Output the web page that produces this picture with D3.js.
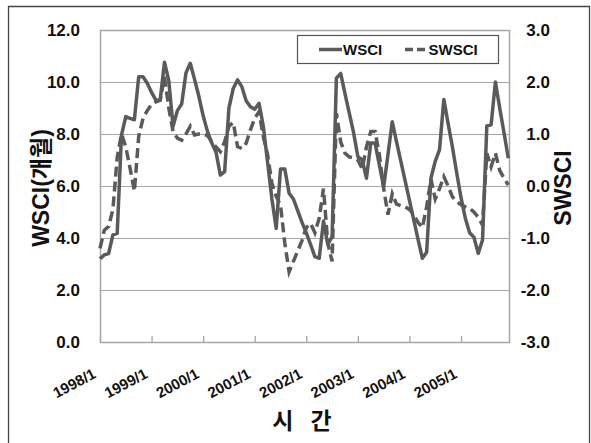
<!DOCTYPE html>
<html><head><meta charset="utf-8">
<script src="https://cdn.jsdelivr.net/npm/d3@7"></script>
<style>
html,body{margin:0;padding:0;background:#fff;}
svg{display:block;}
</style></head>
<body>
<script>
// ---- data ----
const startYear = 1998;
const xTickLabels = ["1998/1","1999/1","2000/1","2001/1","2002/1","2003/1","2004/1","2005/1"];
const wsci = [
 3.2,3.35,3.4,4.12,4.18,7.96,8.67,8.6,8.55,10.2,10.2,9.95,
 9.6,9.3,9.3,10.76,10.05,8.3,8.9,9.15,10.35,10.72,10.1,9.45,
 8.7,8.1,7.65,7.3,6.42,6.55,9.0,9.75,10.08,9.82,9.28,9.05,
 8.95,9.18,8.3,6.9,5.5,4.37,6.65,6.65,5.72,5.5,5.05,4.6,
 4.2,3.75,3.28,3.22,4.65,3.75,4.05,10.15,10.33,9.55,8.8,8.05,
 7.13,7.0,6.3,7.65,7.65,6.8,5.97,7.2,8.47,7.7,6.95,6.2,
 5.45,4.7,3.95,3.22,3.45,6.3,6.95,7.4,9.33,8.4,7.5,6.5,
 5.55,4.76,4.2,4.03,3.41,3.92,8.31,8.35,10.0,9.0,8.05,7.07
];
const swsci = [
 -1.2,-0.85,-0.78,-0.45,0.55,1.0,0.75,0.34,-0.1,0.95,1.3,1.45,
 1.57,1.62,1.65,2.1,1.5,1.05,0.92,0.88,1.0,1.15,0.98,1.0,
 1.0,0.97,0.85,0.75,0.66,0.85,1.15,1.22,0.76,0.72,0.82,1.08,
 1.3,1.43,0.95,0.6,0.05,-0.2,-0.37,-1.1,-1.65,-1.45,-1.25,-1.05,
 -0.8,-0.72,-0.9,-0.62,-0.05,-1.1,-1.45,1.4,0.85,0.63,0.56,0.54,
 0.5,0.33,0.75,1.05,1.05,0.6,-0.05,-0.55,-0.15,-0.35,-0.38,-0.4,
 -0.45,-0.55,-0.7,-0.8,-0.4,0.13,-0.25,-0.05,0.18,0.0,-0.21,-0.3,
 -0.36,-0.4,-0.43,-0.5,-0.6,-0.75,0.63,0.37,0.63,0.3,0.15,0.02
];
const leftTicks = [0,2,4,6,8,10,12];
const rightTicks = [-3,-2,-1,0,1,2,3];
const seriesNames = ["WSCI","SWSCI"];
const months = wsci.map((d,i)=> (startYear + Math.floor(i/12)) + "/" + (i%12+1));

// ---- layout ----
const W = 591, H = 443;
const L = 100, R = 510, T = 30, B = 342;
const lineColor = "#5a5a5a";
const gridColor = "#a6a6a6";
const numFont = "'Liberation Sans', Arial, sans-serif";
const korFont = "'Liberation Sans', 'Noto Sans CJK KR', sans-serif";

const svg = d3.select("body").append("svg").attr("width", W).attr("height", H);
svg.append("rect").attr("width",W).attr("height",H).attr("fill","#fff");
// outer frame
svg.append("path").attr("d", `M8.5,${H} V6.5 H589.5 V${H}`)
  .attr("fill","none").attr("stroke","#444").attr("stroke-width",1.3);

const x = d3.scalePoint().domain(months).range([L, 508.3]);
const yL = d3.scaleLinear().domain([0,12]).range([B,T]);
const yR = d3.scaleLinear().domain([-3,3]).range([B,T]);

// gridlines
const grid = svg.append("g").attr("transform",`translate(${L},0)`)
  .call(d3.axisLeft(yL).tickValues(leftTicks).tickSize(-(R-L)).tickFormat(""));
grid.select(".domain").remove();
grid.selectAll("line").attr("stroke",gridColor).attr("stroke-width",1);

// plot border
svg.append("rect").attr("x",L+0.5).attr("y",T+0.5).attr("width",R-L-1).attr("height",B-T)
  .attr("fill","none").attr("stroke",gridColor).attr("stroke-width",1.5);

// x axis ticks (inside)
const xa = svg.append("g").attr("transform",`translate(0,${B})`)
  .call(d3.axisBottom(x).tickValues(xTickLabels).tickSizeInner(-6).tickSizeOuter(0).tickFormat(""));
xa.select(".domain").remove();
xa.selectAll("line").attr("stroke",gridColor).attr("stroke-width",1.3);

// x tick labels (rotated)
svg.append("g").selectAll("text").data(xTickLabels).join("text")
  .attr("transform", d => `translate(${x(d)-3},377) rotate(-28)`)
  .attr("text-anchor","end")
  .attr("font-family",numFont).attr("font-size",15).attr("font-weight","bold").attr("fill","#111")
  .text(d=>d);

// left axis labels
const ya = svg.append("g").attr("transform",`translate(${L},0)`)
  .call(d3.axisLeft(yL).tickValues(leftTicks).tickSize(0).tickPadding(20).tickFormat(v=>v.toFixed(1)));
ya.select(".domain").remove();
ya.selectAll("text").attr("font-family",numFont).attr("font-size",17).attr("font-weight","bold").attr("fill","#111");

// right axis labels
const yr = svg.append("g").attr("transform",`translate(550,0)`)
  .call(d3.axisLeft(yR).tickValues(rightTicks).tickSize(0).tickPadding(0).tickFormat(v=>v.toFixed(1)));
yr.select(".domain").remove();
yr.selectAll("text").attr("font-family",numFont).attr("font-size",17).attr("font-weight","bold").attr("fill","#111");

// lines
const lineL = d3.line().x((d,i)=>x(months[i])).y(d=>yL(d));
const lineR = d3.line().x((d,i)=>x(months[i])).y(d=>yR(d));
svg.append("path").datum(swsci).attr("d",lineR).attr("fill","none")
  .attr("stroke",lineColor).attr("stroke-width",3.5).attr("stroke-dasharray","10,5");
svg.append("path").datum(wsci).attr("d",lineL).attr("fill","none")
  .attr("stroke",lineColor).attr("stroke-width",3.5).attr("stroke-linejoin","round");

// axis titles
svg.append("text").attr("transform","translate(49,188) rotate(-90)")
  .attr("text-anchor","middle").attr("font-family",korFont).attr("font-size",23)
  .attr("font-weight","bold").attr("fill","#111").text("WSCI(개월)");
svg.append("text").attr("transform","translate(571,188) rotate(-90)")
  .attr("text-anchor","middle").attr("font-family",numFont).attr("font-size",23)
  .attr("font-weight","bold").attr("fill","#111").text(seriesNames[1]);
svg.append("text").attr("x",305).attr("y",429)
  .attr("text-anchor","middle").attr("font-family","'Noto Sans CJK KR', sans-serif").attr("font-size",23)
  .attr("font-weight","bold").attr("fill","#111").attr("letter-spacing",6).text("시 간");

// legend
const lg = svg.append("g");
lg.append("rect").attr("x",297.5).attr("y",35.5).attr("width",201).attr("height",28)
  .attr("fill","#fff").attr("stroke","#555").attr("stroke-width",1.2);
lg.append("line").attr("x1",319).attr("x2",342).attr("y1",49.5).attr("y2",49.5)
  .attr("stroke",lineColor).attr("stroke-width",3.5);
lg.append("text").attr("x",343).attr("y",55).attr("font-family",numFont).attr("font-size",15)
  .attr("font-weight","bold").attr("fill","#111").text(seriesNames[0]);
lg.append("line").attr("x1",405).attr("x2",428).attr("y1",49.5).attr("y2",49.5)
  .attr("stroke",lineColor).attr("stroke-width",3.5).attr("stroke-dasharray","8,4");
lg.append("text").attr("x",428.5).attr("y",55).attr("font-family",numFont).attr("font-size",15)
  .attr("font-weight","bold").attr("fill","#111").text(seriesNames[1]);
</script>
</body></html>
